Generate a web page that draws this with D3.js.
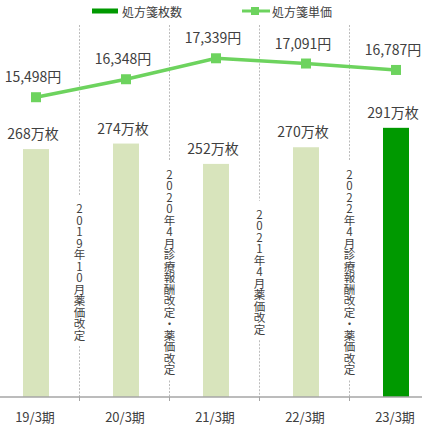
<!DOCTYPE html>
<html><head><meta charset="utf-8">
<script src="https://cdn.jsdelivr.net/npm/d3@7"></script>
<style>body{margin:0;background:#fff}svg{display:block}text{font-family:"Noto Sans CJK JP","Noto Sans",sans-serif;fill:#404040}
.vt{writing-mode:vertical-rl;text-orientation:upright;font-size:11.5px;letter-spacing:0px;font-family:"Noto Sans CJK JP";fill:#404040}</style>
</head><body>
<svg id="c" width="422" height="426"></svg>
<script>
const categories = ["19/3期","20/3期","21/3期","22/3期","23/3期"];
const sheets = [268,274,252,270,291];        // 処方箋枚数 (万枚)
const unitPrice = [15498,16348,17339,17091,16787]; // 処方箋単価 (円)
const notes = ["2019年10月薬価改定","2020年4月診療報酬改定・薬価改定","2021年4月薬価改定","2022年4月診療報酬改定・薬価改定"];
const legendLabels = ["処方箋枚数","処方箋単価"];

const svg = d3.select("#c");
const W = 422, baseY = 397;
const x = d3.scaleBand().domain(categories).range([-9, 441]).padding(0);
const bw = 26;
const yBar = d3.scaleLinear().domain([0,400]).range([baseY, 27]);
const yLine = d3.scaleLinear().domain([0,20000]).range([425, 2]);
const cx = c => x(c) + x.bandwidth()/2;
const lineColor = "#6dd35e";

// dividers + notes
notes.forEach((t, i) => {
  const dx = x(categories[i]) + x.bandwidth() - 1.5;
  const step = 11.5, n = t.length;
  const midY = 272;
  const top = midY - n*step/2, bot = midY + n*step/2;
  svg.append("line").attr("x1",dx).attr("x2",dx).attr("y1",25).attr("y2",top-8)
    .attr("stroke","#bcbcbc").attr("stroke-dasharray","2,1.5");
  svg.append("line").attr("x1",dx).attr("x2",dx).attr("y1",bot+5).attr("y2",baseY)
    .attr("stroke","#bcbcbc").attr("stroke-dasharray","2,1.5");
  svg.append("line").attr("x1",dx).attr("x2",dx).attr("y1",baseY).attr("y2",baseY+4)
    .attr("stroke","#a6a6a6");
  svg.append("text").attr("class","vt").attr("x", dx).attr("y", midY)
    .attr("text-anchor","middle").text(t);
});

// bars
svg.selectAll("rect.bar").data(sheets).join("rect").attr("class","bar")
  .attr("x",(d,i)=>cx(categories[i]) - bw/2).attr("width",bw)
  .attr("y",d=>yBar(d)).attr("height",d=>baseY - yBar(d))
  .attr("fill",(d,i)=> i===sheets.length-1 ? "#009900" : "#d8e4bc");

svg.selectAll("text.bl").data(sheets).join("text").attr("class","bl")
  .attr("x",(d,i)=>cx(categories[i]) - 3).attr("y",d=>yBar(d) - 10)
  .attr("text-anchor","middle").attr("font-size",14)
  .text(d=>d+"万枚");

// axis
svg.append("line").attr("x1",0).attr("x2",W).attr("y1",baseY).attr("y2",baseY)
  .attr("stroke","#a6a6a6").attr("stroke-width",1.5);
svg.selectAll("text.cat").data(categories).join("text").attr("class","cat")
  .attr("x",d=>cx(d) - 1).attr("y",422)
  .attr("text-anchor","middle").attr("font-size",13).text(d=>d);

// line
const line = d3.line().x((d,i)=>cx(categories[i])).y(d=>yLine(d));
svg.append("path").datum(unitPrice).attr("d",line)
  .attr("fill","none").attr("stroke",lineColor).attr("stroke-width",3.5);
svg.selectAll("rect.mk").data(unitPrice).join("rect").attr("class","mk")
  .attr("x",(d,i)=>cx(categories[i]) - 5).attr("y",d=>yLine(d) - 5)
  .attr("width",10).attr("height",10).attr("fill",lineColor);
svg.selectAll("text.pl").data(unitPrice).join("text").attr("class","pl")
  .attr("x",(d,i)=>Math.max(29, cx(categories[i]) - 3)).attr("y",d=>yLine(d) - 15)
  .attr("text-anchor","middle").attr("font-size",14)
  .text(d=>d3.format(",")(d)+"円");

// legend
svg.append("rect").attr("x",92).attr("y",8.5).attr("width",26).attr("height",5).attr("fill","#009900");
svg.append("text").attr("x",122).attr("y",11).attr("dominant-baseline","central").attr("font-size",12).text(legendLabels[0]);
svg.append("line").attr("x1",242).attr("x2",270).attr("y1",11).attr("y2",11).attr("stroke",lineColor).attr("stroke-width",3);
svg.append("rect").attr("x",251).attr("y",7).attr("width",8).attr("height",8).attr("fill",lineColor);
svg.append("text").attr("x",272).attr("y",11).attr("dominant-baseline","central").attr("font-size",12).text(legendLabels[1]);
</script>
</body></html>
